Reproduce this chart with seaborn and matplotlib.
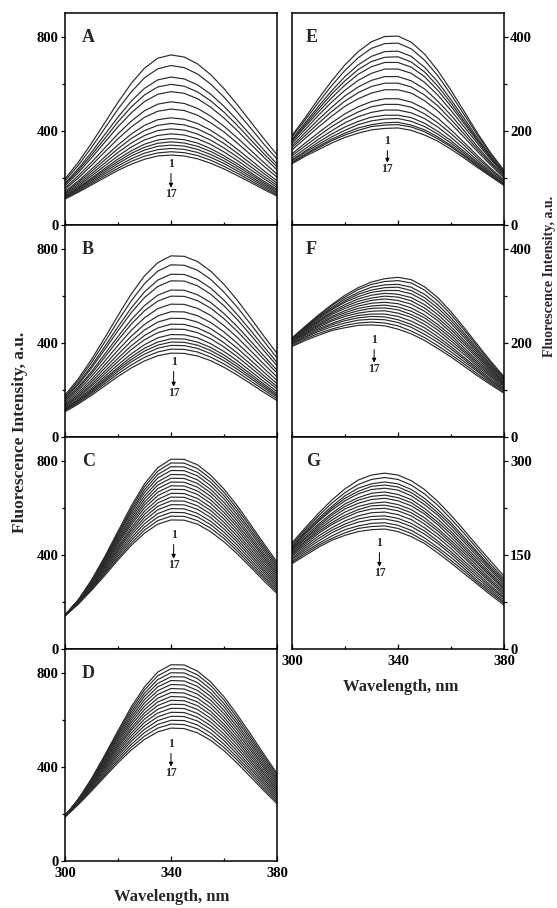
import matplotlib
matplotlib.use("Agg")
import matplotlib.pyplot as plt
import pandas as pd
import seaborn as sns
from matplotlib.ticker import MultipleLocator

wavelength = [300, 305, 310, 315, 320, 325, 330, 335, 340, 345, 350, 355, 360, 365, 370, 375, 380]

# fluorescence intensity, 17 spectra per panel (curve 1 = top ... curve 17 = bottom)
panel_A = [
    [196, 266, 347, 434, 521, 601, 666, 708, 722, 713, 684, 638, 579, 511, 439, 367, 298],
    [188, 253, 329, 410, 492, 565, 625, 663, 677, 668, 641, 598, 543, 479, 412, 344, 280],
    [178, 239, 309, 384, 458, 526, 580, 616, 628, 620, 595, 555, 504, 445, 382, 319, 259],
    [173, 231, 297, 367, 438, 501, 552, 586, 597, 589, 565, 527, 479, 423, 363, 303, 247],
    [167, 222, 285, 351, 417, 476, 524, 555, 566, 559, 536, 500, 454, 401, 344, 288, 234],
    [158, 209, 266, 327, 387, 441, 485, 513, 523, 516, 495, 462, 419, 370, 318, 266, 216],
    [152, 199, 253, 310, 366, 416, 457, 483, 492, 486, 466, 434, 395, 348, 299, 250, 203],
    [143, 187, 237, 289, 340, 386, 423, 447, 455, 449, 431, 402, 365, 322, 277, 231, 188],
    [138, 180, 227, 276, 324, 367, 401, 423, 431, 425, 408, 381, 346, 305, 262, 219, 178],
    [133, 173, 217, 263, 308, 348, 380, 401, 408, 403, 386, 360, 327, 289, 248, 207, 169],
    [129, 166, 208, 251, 293, 331, 361, 380, 387, 382, 366, 342, 310, 274, 235, 197, 160],
    [124, 160, 199, 240, 280, 315, 343, 361, 367, 362, 348, 324, 294, 260, 223, 186, 152],
    [122, 156, 194, 233, 270, 304, 330, 347, 353, 348, 334, 312, 283, 250, 215, 179, 146],
    [119, 152, 188, 225, 261, 293, 318, 334, 339, 335, 321, 299, 272, 240, 206, 172, 140],
    [116, 148, 182, 217, 251, 281, 305, 320, 325, 321, 308, 287, 261, 230, 198, 165, 134],
    [113, 143, 176, 209, 241, 270, 292, 306, 311, 307, 295, 275, 249, 220, 189, 158, 128],
    [110, 139, 170, 201, 232, 258, 279, 293, 297, 293, 281, 262, 238, 210, 181, 151, 123],
]
panel_B = [
    [178, 247, 329, 421, 516, 607, 684, 740, 769, 767, 745, 704, 648, 581, 506, 429, 355],
    [172, 238, 316, 403, 493, 578, 651, 704, 731, 729, 708, 669, 615, 551, 480, 407, 336],
    [166, 228, 302, 384, 468, 548, 616, 666, 691, 690, 669, 632, 581, 520, 453, 384, 317],
    [162, 222, 293, 371, 451, 528, 592, 639, 663, 662, 642, 606, 557, 499, 434, 367, 303],
    [155, 212, 278, 352, 427, 498, 558, 602, 624, 623, 604, 571, 524, 469, 408, 345, 284],
    [152, 206, 269, 339, 411, 479, 536, 577, 598, 597, 579, 547, 502, 449, 390, 330, 271],
    [145, 197, 257, 322, 389, 453, 506, 545, 564, 563, 546, 516, 473, 423, 367, 310, 255],
    [139, 188, 244, 306, 369, 428, 478, 514, 532, 531, 515, 486, 446, 398, 346, 292, 240],
    [134, 180, 234, 292, 351, 407, 454, 488, 504, 503, 488, 460, 422, 377, 327, 276, 226],
    [130, 173, 224, 279, 335, 387, 431, 463, 479, 478, 463, 437, 400, 357, 310, 261, 214],
    [126, 168, 216, 268, 321, 371, 413, 443, 458, 457, 443, 417, 382, 341, 295, 249, 204],
    [121, 161, 207, 257, 307, 353, 392, 421, 435, 434, 421, 396, 363, 324, 280, 236, 193],
    [118, 157, 200, 248, 295, 340, 377, 403, 417, 416, 403, 380, 348, 310, 268, 225, 184],
    [116, 153, 195, 241, 287, 329, 365, 390, 403, 402, 390, 367, 336, 299, 258, 217, 177],
    [114, 150, 190, 234, 278, 319, 352, 377, 389, 388, 376, 354, 324, 288, 249, 209, 171],
    [111, 145, 184, 226, 268, 306, 338, 361, 373, 372, 361, 339, 310, 276, 238, 200, 163],
    [107, 140, 177, 217, 257, 293, 323, 345, 356, 355, 344, 324, 296, 263, 227, 190, 155],
]
panel_C = [
    [140, 207, 292, 392, 500, 607, 701, 770, 806, 805, 782, 738, 679, 608, 529, 448, 370],
    [141, 207, 291, 388, 493, 597, 689, 755, 790, 789, 766, 723, 665, 595, 518, 438, 361],
    [142, 208, 289, 384, 487, 587, 676, 741, 774, 773, 750, 708, 651, 582, 506, 428, 352],
    [143, 208, 288, 380, 480, 578, 664, 726, 758, 757, 735, 693, 637, 569, 495, 418, 344],
    [144, 207, 286, 376, 473, 567, 650, 710, 741, 740, 718, 677, 622, 556, 482, 407, 335],
    [145, 207, 284, 372, 466, 557, 637, 696, 725, 724, 703, 663, 608, 543, 471, 397, 326],
    [145, 206, 281, 367, 458, 547, 624, 681, 709, 708, 687, 648, 594, 530, 460, 388, 318],
    [145, 206, 279, 362, 451, 537, 612, 666, 693, 692, 671, 633, 580, 518, 448, 378, 310],
    [145, 205, 276, 358, 444, 527, 599, 651, 678, 677, 656, 618, 566, 505, 437, 368, 301],
    [145, 203, 273, 352, 435, 515, 585, 635, 661, 660, 639, 602, 552, 492, 425, 358, 293],
    [145, 202, 270, 347, 428, 505, 572, 620, 645, 644, 624, 588, 538, 479, 414, 348, 284],
    [144, 201, 267, 342, 420, 495, 559, 606, 629, 628, 608, 573, 524, 466, 403, 338, 276],
    [144, 199, 264, 336, 412, 484, 546, 591, 613, 612, 593, 558, 510, 454, 392, 329, 268],
    [143, 197, 260, 330, 403, 472, 532, 575, 596, 595, 576, 542, 496, 441, 380, 319, 260],
    [142, 195, 256, 324, 395, 461, 518, 560, 580, 579, 561, 528, 482, 428, 369, 309, 252],
    [141, 193, 253, 319, 386, 450, 505, 545, 564, 563, 545, 513, 469, 416, 358, 300, 244],
    [140, 190, 249, 312, 378, 440, 492, 530, 548, 547, 530, 498, 455, 404, 348, 290, 236],
]
panel_D = [
    [186, 260, 349, 449, 553, 654, 739, 802, 833, 832, 806, 760, 697, 621, 539, 454, 372],
    [188, 261, 348, 445, 546, 643, 726, 786, 816, 815, 790, 745, 683, 608, 527, 444, 364],
    [189, 261, 346, 441, 538, 632, 712, 770, 799, 798, 774, 729, 668, 595, 516, 434, 355],
    [190, 261, 344, 436, 531, 621, 699, 754, 782, 781, 757, 713, 654, 582, 504, 424, 347],
    [191, 261, 342, 431, 523, 610, 685, 739, 766, 764, 741, 698, 639, 569, 493, 414, 339],
    [192, 260, 339, 426, 515, 599, 671, 723, 749, 747, 724, 682, 625, 556, 481, 404, 331],
    [193, 259, 336, 420, 507, 588, 657, 707, 732, 730, 708, 667, 610, 543, 470, 395, 322],
    [193, 258, 333, 415, 498, 577, 643, 691, 715, 713, 691, 651, 596, 530, 458, 385, 314],
    [193, 257, 330, 409, 490, 565, 629, 675, 698, 696, 675, 635, 581, 517, 447, 375, 306],
    [193, 256, 327, 404, 482, 555, 616, 660, 682, 680, 659, 621, 568, 505, 436, 366, 299],
    [193, 254, 323, 398, 473, 543, 602, 644, 665, 664, 643, 605, 554, 492, 425, 356, 291],
    [192, 252, 319, 392, 464, 531, 588, 628, 648, 647, 626, 590, 539, 479, 414, 347, 283],
    [192, 250, 315, 385, 455, 519, 574, 612, 631, 630, 610, 574, 525, 466, 402, 337, 275],
    [191, 247, 311, 378, 446, 508, 559, 596, 614, 613, 594, 559, 511, 453, 391, 328, 267],
    [189, 245, 306, 371, 436, 495, 545, 580, 597, 596, 577, 543, 496, 440, 380, 318, 259],
    [188, 242, 302, 364, 426, 483, 530, 564, 581, 579, 561, 527, 482, 428, 369, 308, 251],
    [186, 239, 297, 357, 417, 471, 516, 548, 564, 562, 544, 512, 468, 415, 357, 299, 243],
]
panel_E = [
    [190, 228, 268, 306, 340, 368, 389, 400, 401, 388, 363, 328, 286, 241, 195, 153, 116],
    [187, 223, 260, 296, 328, 355, 375, 385, 386, 374, 350, 317, 277, 234, 191, 150, 115],
    [182, 217, 252, 285, 315, 340, 358, 368, 369, 358, 335, 304, 266, 226, 185, 146, 112],
    [180, 213, 246, 278, 306, 330, 347, 356, 357, 346, 325, 295, 259, 220, 181, 144, 111],
    [177, 209, 240, 270, 297, 320, 336, 345, 345, 335, 315, 286, 252, 215, 178, 142, 110],
    [173, 203, 233, 261, 286, 307, 322, 331, 331, 322, 303, 276, 243, 208, 173, 139, 108],
    [168, 196, 224, 250, 274, 293, 307, 315, 315, 306, 289, 263, 233, 200, 166, 134, 105],
    [164, 190, 216, 241, 263, 281, 294, 301, 301, 293, 276, 253, 224, 193, 161, 131, 103],
    [159, 184, 208, 231, 252, 268, 280, 287, 287, 280, 264, 242, 215, 186, 156, 127, 100],
    [151, 174, 196, 217, 236, 251, 262, 268, 268, 261, 247, 227, 202, 175, 147, 120, 96],
    [147, 168, 189, 209, 226, 240, 251, 256, 256, 250, 236, 217, 194, 169, 142, 117, 93],
    [142, 162, 182, 200, 217, 230, 239, 244, 244, 238, 226, 208, 186, 162, 137, 113, 91],
    [138, 157, 176, 193, 208, 220, 229, 233, 233, 228, 216, 199, 179, 156, 133, 110, 88],
    [136, 154, 171, 187, 201, 213, 221, 225, 226, 220, 209, 193, 174, 152, 130, 108, 87],
    [133, 150, 167, 182, 195, 206, 213, 217, 218, 212, 202, 187, 169, 148, 127, 105, 86],
    [132, 149, 164, 179, 191, 201, 209, 212, 213, 208, 198, 183, 166, 146, 125, 105, 85],
    [130, 146, 160, 174, 186, 195, 202, 205, 206, 201, 191, 178, 161, 142, 122, 103, 84],
]
panel_F = [
    [210, 235, 259, 281, 301, 317, 329, 336, 339, 334, 319, 296, 266, 232, 196, 161, 128],
    [210, 234, 257, 279, 297, 313, 324, 330, 332, 327, 312, 289, 260, 227, 192, 158, 126],
    [210, 233, 255, 275, 293, 307, 318, 323, 324, 318, 303, 281, 253, 221, 187, 154, 124],
    [209, 232, 253, 272, 289, 303, 312, 317, 318, 311, 296, 274, 247, 216, 183, 151, 122],
    [209, 231, 251, 270, 286, 298, 307, 311, 311, 304, 289, 267, 241, 211, 179, 148, 120],
    [208, 229, 248, 266, 281, 293, 301, 305, 303, 296, 281, 260, 234, 205, 175, 145, 117],
    [208, 228, 246, 263, 277, 288, 295, 299, 297, 289, 274, 253, 228, 200, 171, 142, 115],
    [207, 226, 244, 260, 273, 283, 290, 293, 290, 282, 267, 247, 222, 195, 167, 139, 113],
    [205, 224, 241, 256, 268, 278, 284, 286, 283, 274, 259, 239, 216, 189, 162, 136, 111],
    [204, 222, 238, 253, 264, 273, 278, 280, 276, 267, 253, 233, 210, 184, 158, 133, 109],
    [203, 220, 236, 249, 260, 268, 273, 274, 270, 260, 246, 227, 204, 180, 154, 130, 107],
    [202, 218, 233, 246, 256, 263, 267, 268, 263, 254, 239, 220, 198, 175, 150, 127, 104],
    [200, 216, 230, 241, 251, 258, 261, 261, 256, 246, 232, 213, 192, 169, 146, 123, 102],
    [198, 213, 227, 238, 247, 253, 256, 255, 249, 239, 225, 207, 187, 165, 142, 120, 100],
    [197, 211, 224, 234, 242, 248, 250, 249, 243, 233, 218, 201, 181, 160, 139, 117, 98],
    [194, 208, 220, 229, 237, 242, 244, 242, 236, 225, 211, 194, 175, 155, 134, 114, 95],
    [192, 205, 216, 226, 232, 237, 238, 236, 229, 219, 205, 188, 170, 150, 130, 111, 93],
]
panel_G = [
    [169, 193, 216, 237, 255, 269, 277, 280, 277, 268, 254, 235, 213, 189, 164, 140, 116],
    [167, 190, 212, 232, 249, 262, 270, 273, 270, 261, 247, 229, 207, 184, 159, 135, 112],
    [164, 187, 208, 227, 244, 256, 263, 266, 263, 254, 240, 222, 201, 178, 154, 131, 109],
    [163, 185, 205, 224, 240, 251, 259, 261, 258, 249, 235, 217, 197, 174, 151, 128, 106],
    [161, 183, 203, 221, 236, 247, 254, 256, 253, 244, 230, 213, 192, 170, 147, 125, 103],
    [159, 180, 199, 216, 231, 241, 248, 250, 246, 238, 224, 207, 187, 165, 143, 121, 100],
    [158, 177, 196, 213, 227, 237, 243, 245, 241, 233, 219, 202, 183, 161, 139, 118, 97],
    [156, 175, 193, 209, 223, 232, 238, 240, 236, 228, 215, 198, 178, 157, 136, 115, 95],
    [154, 172, 190, 205, 218, 227, 232, 234, 230, 222, 209, 192, 173, 153, 132, 111, 92],
    [152, 170, 187, 201, 213, 222, 228, 229, 225, 217, 204, 188, 169, 149, 128, 108, 89],
    [150, 167, 184, 198, 209, 218, 223, 224, 220, 212, 199, 183, 165, 145, 125, 105, 86],
    [148, 164, 180, 193, 204, 212, 217, 218, 214, 206, 193, 178, 160, 140, 121, 101, 83],
    [145, 161, 176, 189, 199, 207, 211, 212, 208, 200, 188, 172, 155, 136, 117, 98, 81],
    [143, 158, 172, 185, 195, 202, 206, 207, 203, 195, 183, 168, 151, 132, 113, 95, 78],
    [140, 155, 168, 180, 190, 196, 200, 201, 197, 189, 177, 162, 146, 128, 109, 92, 75],
    [138, 152, 165, 176, 185, 192, 195, 196, 192, 184, 172, 158, 141, 124, 106, 89, 73],
    [136, 149, 162, 173, 181, 187, 190, 191, 187, 179, 168, 153, 137, 120, 103, 86, 70],
]

x_major = [300, 340, 380]
x_minor = [320, 360]

sns.set_style("ticks", {"axes.edgecolor": "black", "xtick.color": "black", "ytick.color": "black"})
plt.rcParams["font.family"] = ["Liberation Serif", "DejaVu Serif"]
plt.rcParams["font.weight"] = "bold"

fig = plt.figure(figsize=(5.57, 9.08), dpi=100)

W, H = 0.3806, 0.2335
col_x = [0.1167, 0.5242]
row_y = [0.7522, 0.5187, 0.2852, 0.0518]

# letter, data, ymax, major, minor, col, row, label x (nm), "1" y, "17" y (axes fraction)
panels = [
    ("A", panel_A, 900, 400, 200, 0, 0, 340, 0.288, 0.146),
    ("B", panel_B, 900, 400, 200, 0, 1, 341, 0.354, 0.208),
    ("C", panel_C, 900, 400, 200, 0, 2, 341, 0.538, 0.396),
    ("D", panel_D, 900, 400, 200, 0, 3, 340, 0.552, 0.415),
    ("E", panel_E, 450, 200, 100, 1, 0, 336, 0.396, 0.264),
    ("F", panel_F, 450, 200, 100, 1, 1, 331, 0.458, 0.321),
    ("G", panel_G, 337.5, 150, 75, 1, 2, 333, 0.500, 0.358),
]

for letter, data, ymax, ymaj, ymin, col, row, xa, y1, y17 in panels:
    ax = fig.add_axes([col_x[col], row_y[row], W, H])
    df = pd.DataFrame(
        [(w, v, i + 1) for i, curve in enumerate(data) for w, v in zip(wavelength, curve)],
        columns=["wl", "fi", "curve"],
    )
    sns.lineplot(data=df, x="wl", y="fi", units="curve", estimator=None,
                 color="#2a2a2a", lw=0.85, ax=ax, legend=False,
                 solid_joinstyle="round")
    ax.set_xlim(300, 380)
    ax.set_ylim(0, ymax)
    ax.set_xticks(x_major)
    ax.set_xticks(x_minor, minor=True)
    ax.yaxis.set_major_locator(MultipleLocator(ymaj))
    ax.yaxis.set_minor_locator(MultipleLocator(ymin))
    ax.tick_params(axis="x", which="major", direction="in", length=3.5, width=0.9,
                   labelsize=10.5, pad=4.5, top=False)
    ax.tick_params(axis="x", which="minor", direction="in", length=2.5, width=0.9, top=False)
    ax.tick_params(axis="y", which="major", direction="out", length=3, width=0.9, labelsize=10.5, pad=1.5)
    ax.tick_params(axis="y", which="minor", direction="out", length=2, width=0.9)
    if col == 1:
        ax.yaxis.tick_right()
    bottom_row = (col == 0 and row == 3) or (col == 1 and row == 2)
    if not bottom_row:
        ax.tick_params(axis="x", labelbottom=False)
    ax.set_xlabel("")
    ax.set_ylabel("")
    for sp in ax.spines.values():
        sp.set_linewidth(1.1)
        sp.set_color("black")

    ax.text(0.08 if col == 0 else 0.065, 0.885, letter, transform=ax.transAxes,
            fontsize=13, fontweight="bold", ha="left", va="center")

    tr = ax.get_xaxis_transform()
    ax.text(xa, y1, "1", transform=tr, fontsize=8.5, fontweight="bold", ha="center", va="center")
    ax.text(xa, y17, "17", transform=tr, fontsize=8.5, fontweight="bold", ha="center", va="center")
    ax.annotate("", xy=(xa, y17 + 0.03), xytext=(xa, y1 - 0.045), xycoords=tr, textcoords=tr,
                arrowprops=dict(arrowstyle="-|>", color="black", lw=0.7,
                                mutation_scale=6, shrinkA=0, shrinkB=0))

fig.text(0.036, 0.524, "Fluorescence Intensity, a.u.", rotation=90, ha="center", va="center",
         fontsize=12.5, fontweight="bold")
fig.text(0.986, 0.696, "Fluorescence Intensity, a.u.", rotation=90, ha="center", va="center",
         fontsize=10, fontweight="bold")
fig.text(0.308, 0.012, "Wavelength, nm", ha="center", va="center", fontsize=12, fontweight="bold")
fig.text(0.719, 0.2434, "Wavelength, nm", ha="center", va="center", fontsize=12, fontweight="bold")

fig.savefig("out.png", dpi=100)
